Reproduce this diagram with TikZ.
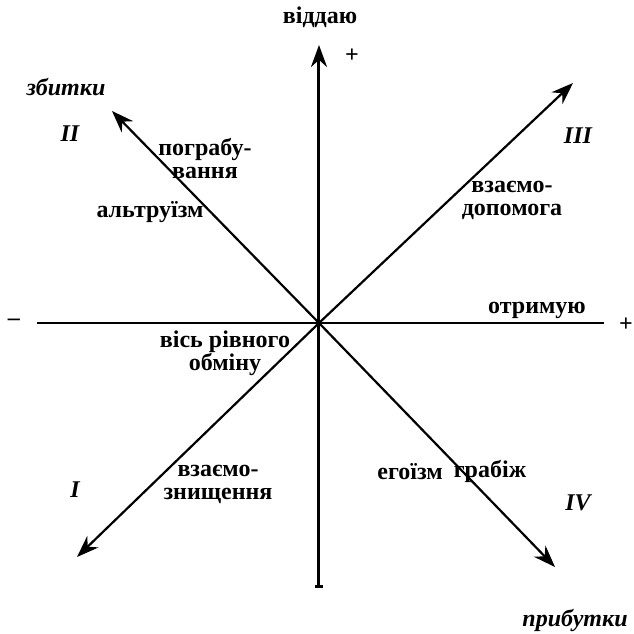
\documentclass[tikz,border=0pt]{standalone}
\usepackage{fontspec}
\setmainfont{Liberation Serif}
\usetikzlibrary{arrows.meta}

\tikzset{
    lbl/.style={font=\fontsize{12}{11.5}\selectfont\bfseries, align=center, inner sep=0pt},
    ital/.style={font=\fontsize{12}{11.5}\selectfont\bfseries\itshape, inner sep=0pt},
    tip/.style={-{Stealth[length=11pt,width=8pt]}}
}

\begin{document}
\begin{tikzpicture}[x=0.5pt,y=-0.5pt]
\useasboundingbox (0,0) rectangle (634,634);

% Points
\coordinate (O) at (319,323);
\coordinate (top) at (319,45);
\coordinate (bot) at (319,588);
\coordinate (left) at (37,323);
\coordinate (right) at (604,323);
\coordinate (nw) at (112,111);
\coordinate (ne) at (573,83);
\coordinate (sw) at (77,557);
\coordinate (se) at (555,567);

% Axes
\draw[line width=0.8pt] (left) -- (right);
\draw[line width=1.5pt, {Bar[width=4pt]}-{Stealth[length=11pt,width=8pt]}] (bot) -- (top);

% Diagonals
\draw[line width=1.1pt, tip] (O) -- (nw);
\draw[line width=1.1pt, tip] (O) -- (ne);
\draw[line width=1.1pt, tip] (O) -- (sw);
\draw[line width=1.1pt, tip] (O) -- (se);

% Axis labels
\node[lbl] (give) at (320,17) {віддаю};
\node[lbl] (plusT) at (352,56) {+};
\node[lbl] (get) at (537,310) {отримую};
\node[lbl] (plusR) at (626,325) {+};
\node[lbl] (minusL) at (14,322) {--};
\node[ital] (loss) at (66,87) {збитки};
\node[ital, anchor=east] (gain) at (628,620) {прибутки};

% Quadrants
\node[ital] (qII) at (70,134) {II};
\node[ital] (qIII) at (578,136) {III};
\node[ital] (qI) at (75,490) {I};
\node[ital] (qIV) at (578,503) {IV};

% Texts
\node[lbl] (rob) at (205,159) {пограбу-\\вання};
\node[lbl] (altr) at (150,212) {альтруїзм};
\node[lbl] (help) at (512,200) {взаємо-\\допомога};
\node[lbl] (axis) at (225,353) {вісь рівного\\обміну};
\node[lbl] (destr) at (218,484) {взаємо-\\знищення};
\node[lbl] (ego) at (410,472) {егоїзм};
\node[lbl] (grab) at (490,471) {грабіж};

\end{tikzpicture}
\end{document}
